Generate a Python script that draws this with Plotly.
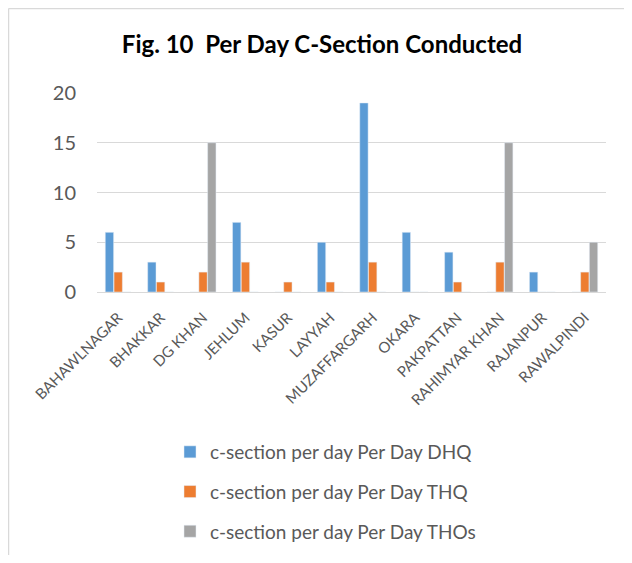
import plotly.graph_objects as go

districts = ["BAHAWLNAGAR", "BHAKKAR", "DG KHAN", "JEHLUM", "KASUR", "LAYYAH",
             "MUZAFFARGARH", "OKARA", "PAKPATTAN", "RAHIMYAR KHAN", "RAJANPUR",
             "RAWALPINDI"]
dhq = [6, 3, 0, 7, 0, 5, 19, 6, 4, 0, 2, 0]
thq = [2, 1, 2, 3, 1, 1, 3, 0, 1, 3, 0, 2]
thos = [0, 0, 15, 0, 0, 0, 0, 0, 0, 15, 0, 5]

series = [
    ("c-section per day Per Day DHQ", dhq, "#5B9BD5"),
    ("c-section per day Per Day THQ", thq, "#ED7D31"),
    ("c-section per day Per Day THOs", thos, "#A5A5A5"),
]

# the page body adds an 8px margin on every side, so keep the figure inside it
OFF = 8
W, H = 632 - 2 * OFF, 563 - 2 * OFF
L, T = 97 - OFF, 93 - OFF
R = W - (606 - OFF)
B = H - (292 - OFF)
pw, ph = W - L - R, H - T - B

fig = go.Figure()
for i, (name, vals, col) in enumerate(series):
    fig.add_trace(go.Bar(x=districts, y=vals, name=name, marker_color=col,
                         legendgroup=f"g{i}"))


# window pixel -> paper fraction
def px_x(x):
    return (x - OFF - L) / pw


def px_y(y):
    return (H - B - (y - OFF)) / ph


fig.update_layout(
    width=W, height=H,
    margin=dict(l=L, r=R, t=T, b=B, autoexpand=False),
    paper_bgcolor="white",
    plot_bgcolor="white",
    font=dict(family="Lato", color="#595959"),
    title=dict(text="<b>Fig. 10  Per Day C-Section Conducted</b>",
               x=px_x(322), xanchor="center", y=1 - (45 - OFF) / H, yanchor="middle",
               xref="paper",
               font=dict(size=24, color="black", family="Lato")),
    barmode="group",
    bargap=0.38,
    bargroupgap=0.05,
    showlegend=True,
    legend=dict(xref="container", yref="container",
                x=(170 - OFF) / W, y=1 - (433 - OFF) / H,
                xanchor="left", yanchor="top",
                font=dict(size=19, color="#595959"),
                traceorder="grouped", tracegroupgap=12,
                itemwidth=30),
    shapes=[
        dict(type="line", xref="paper", yref="paper",
             x0=px_x(8.5), x1=px_x(8.5), y0=px_y(8.5), y1=px_y(555),
             line=dict(color="#d9d9d9", width=1.5)),
        dict(type="line", xref="paper", yref="paper",
             x0=px_x(8.5), x1=px_x(624), y0=px_y(8.5), y1=px_y(8.5),
             line=dict(color="#d9d9d9", width=1.5)),
    ],
)
fig.update_yaxes(range=[0, 20], dtick=5, showgrid=True, gridcolor="#d9d9d9",
                 gridwidth=1, zeroline=False, showline=False,
                 tickfont=dict(size=20, color="#595959"), ticks="",
                 ticklabelstandoff=20)
fig.update_xaxes(showline=True, linecolor="#d9d9d9", linewidth=1,
                 tickangle=-45, tickfont=dict(size=15, color="#595959"),
                 ticks="", ticklabelstandoff=10)

fig.write_html("out.html", config={"displayModeBar": False})
